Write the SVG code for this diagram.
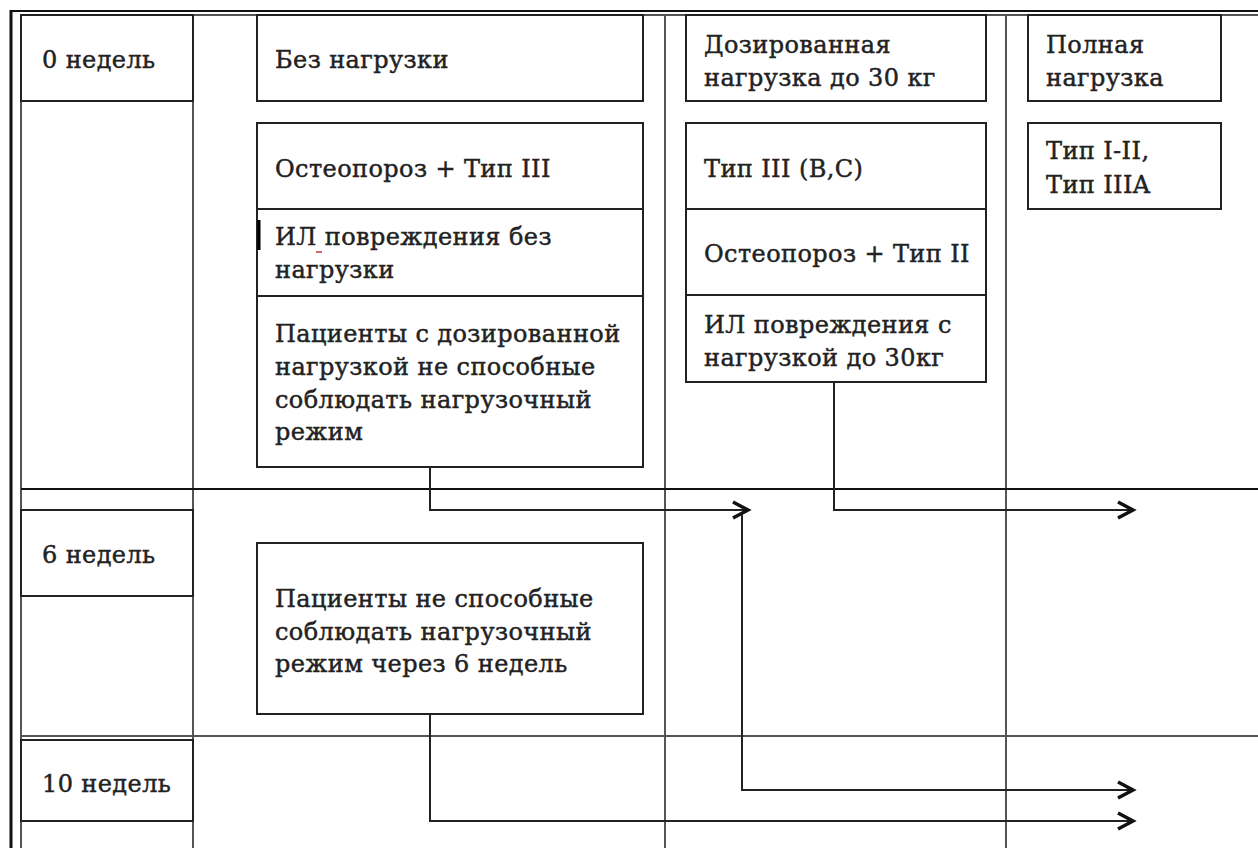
<svg xmlns="http://www.w3.org/2000/svg" width="1258" height="848" viewBox="0 0 1258 848">
<style>
.grid{stroke:#555;stroke-width:2;fill:none}
.box{stroke:#222;stroke-width:2;fill:#fff}
.div{stroke:#222;stroke-width:2}
.t{font-family:"DejaVu Serif","Liberation Serif",serif;font-size:24px;letter-spacing:0.4px;fill:#222;stroke:#222;stroke-width:0.45}
.c{stroke:#222;stroke-width:2;fill:none}
</style>
<defs>
<marker id="arr" markerUnits="userSpaceOnUse" markerWidth="22" markerHeight="24" refX="17" refY="10" orient="auto">
<path d="M2,2 L17,10 L2,18" fill="none" stroke="#111" stroke-width="3.5"/>
</marker>
</defs>
<rect width="1258" height="848" fill="#fff"/>
<g id="grid">
<line x1="11" y1="11" x2="1258" y2="11" stroke="#111" stroke-width="2"/>
<line x1="11" y1="10" x2="11" y2="848" stroke="#111" stroke-width="3"/>
<line x1="21" y1="15" x2="1258" y2="15" class="grid"/>
<line x1="21" y1="15" x2="21" y2="848" class="grid"/>
<line x1="193" y1="15" x2="193" y2="848" class="grid"/>
<line x1="665" y1="15" x2="665" y2="848" class="grid"/>
<line x1="1006" y1="15" x2="1006" y2="848" class="grid"/>
<line x1="21" y1="489" x2="1258" y2="489" stroke="#111" stroke-width="2"/>
<line x1="21" y1="736" x2="1258" y2="736" class="grid"/>
</g>
<g id="w0"><rect x="21" y="15" width="172" height="86" class="box"/><text x="42" y="68" class="t">0 недель</text></g>
<g id="w6"><rect x="21" y="510" width="172" height="86" class="box"/><text x="42" y="563" class="t">6 недель</text></g>
<g id="w10"><rect x="21" y="740" width="172" height="81" class="box"/><text x="42" y="792" class="t">10 недель</text></g>
<g id="h1"><rect x="257" y="15" width="386" height="86" class="box"/><text x="275" y="68" class="t">Без нагрузки</text></g>
<g id="h2"><rect x="686" y="15" width="300" height="86" class="box"/><text x="704" y="53" class="t">Дозированная</text><text x="704" y="86" class="t">нагрузка до 30 кг</text></g>
<g id="h3"><rect x="1028" y="15" width="193" height="86" class="box"/><text x="1046" y="53" class="t">Полная</text><text x="1046" y="86" class="t">нагрузка</text></g>
<g id="s1">
<rect x="257" y="123" width="386" height="344" class="box"/>
<line x1="257" y1="209" x2="643" y2="209" class="div"/>
<line x1="257" y1="296" x2="643" y2="296" class="div"/>
<text x="275" y="177" class="t">Остеопороз + Тип III</text>
<line x1="259" y1="220" x2="259" y2="250" stroke="#000" stroke-width="3"/>
<text x="275" y="245" class="t">ИЛ повреждения без</text>
<line x1="316" y1="252" x2="322" y2="252" stroke="#c33" stroke-width="1.5"/>
<text x="275" y="278" class="t">нагрузки</text>
<text x="275" y="342" class="t">Пациенты с дозированной</text>
<text x="275" y="375" class="t">нагрузкой не способные</text>
<text x="275" y="408" class="t">соблюдать нагрузочный</text>
<text x="275" y="440" class="t">режим</text>
</g>
<g id="s2">
<rect x="686" y="123" width="300" height="259" class="box"/>
<line x1="686" y1="209" x2="986" y2="209" class="div"/>
<line x1="686" y1="295" x2="986" y2="295" class="div"/>
<text x="704" y="177" class="t">Тип III (B,C)</text>
<text x="704" y="262" class="t">Остеопороз + Тип II</text>
<text x="704" y="333" class="t">ИЛ повреждения с</text>
<text x="704" y="366" class="t">нагрузкой до 30кг</text>
</g>
<g id="s3"><rect x="1028" y="123" width="193" height="86" class="box"/><text x="1046" y="159" class="t">Тип I-II,</text><text x="1046" y="193" class="t">Тип IIIA</text></g>
<g id="p6"><rect x="257" y="543" width="386" height="171" class="box"/>
<text x="275" y="607" class="t">Пациенты не способные</text>
<text x="275" y="640" class="t">соблюдать нагрузочный</text>
<text x="275" y="672" class="t">режим через 6 недель</text></g>
<g id="connectors">
<path d="M430,467 V510 H748" class="c" marker-end="url(#arr)"/>
<path d="M834,382 V510 H1133" class="c" marker-end="url(#arr)"/>
<path d="M742,514 V790 H1133" class="c" marker-end="url(#arr)"/>
<path d="M430,714 V821 H1133" class="c" marker-end="url(#arr)"/>
</g>
</svg>
